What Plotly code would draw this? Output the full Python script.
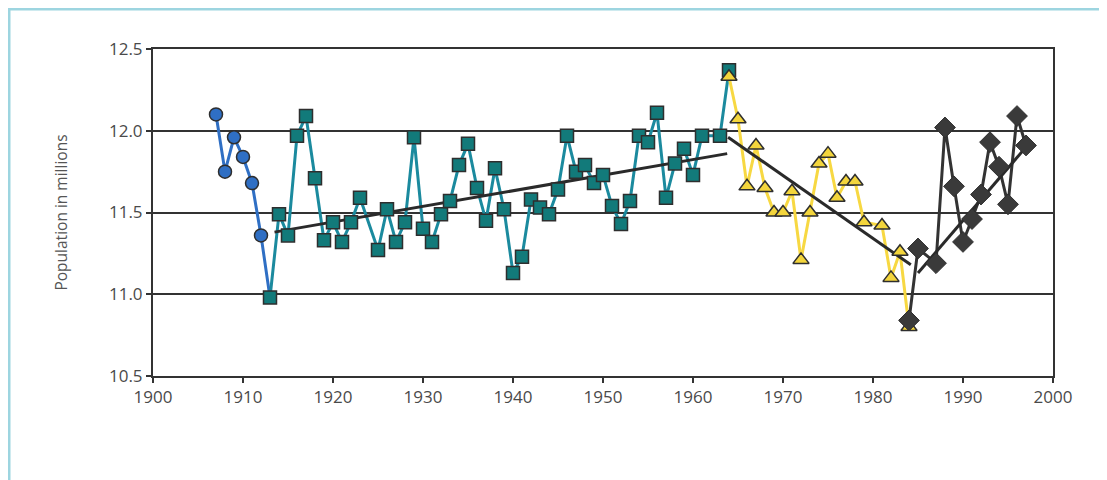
import plotly.graph_objects as go

# ---- data ----
early_years = [1907, 1908, 1909, 1910, 1911, 1912, 1913]
early_vals = [12.10, 11.75, 11.96, 11.84, 11.68, 11.36, 10.98]

mid_years = [1913, 1914, 1915, 1916, 1917, 1918, 1919, 1920, 1921, 1922, 1923,
             1925, 1926, 1927, 1928, 1929, 1930, 1931, 1932, 1933, 1934, 1935,
             1936, 1937, 1938, 1939, 1940, 1941, 1942, 1943, 1944, 1945, 1946,
             1947, 1948, 1949, 1950, 1951, 1952, 1953, 1954, 1955, 1956, 1957,
             1958, 1959, 1960, 1961, 1963, 1964]
mid_vals = [10.98, 11.49, 11.36, 11.97, 12.09, 11.71, 11.33, 11.44, 11.32, 11.44, 11.59,
            11.27, 11.52, 11.32, 11.44, 11.96, 11.40, 11.32, 11.49, 11.57, 11.79, 11.92,
            11.65, 11.45, 11.77, 11.52, 11.13, 11.23, 11.58, 11.53, 11.49, 11.64, 11.97,
            11.75, 11.79, 11.68, 11.73, 11.54, 11.43, 11.57, 11.97, 11.93, 12.11, 11.59,
            11.80, 11.89, 11.73, 11.97, 11.97, 12.37]

late_years = [1964, 1965, 1966, 1967, 1968, 1969, 1970, 1971, 1972, 1973, 1974,
              1975, 1976, 1977, 1978, 1979, 1981, 1982, 1983, 1984]
late_vals = [12.33, 12.07, 11.66, 11.91, 11.65, 11.50, 11.50, 11.63, 11.21, 11.50, 11.80,
             11.86, 11.59, 11.69, 11.69, 11.44, 11.42, 11.10, 11.26, 10.80]

recent_years = [1984, 1985, 1987, 1988, 1989, 1990, 1991, 1992, 1993, 1994, 1995, 1996, 1997]
recent_vals = [10.84, 11.28, 11.19, 12.02, 11.66, 11.32, 11.46, 11.61, 11.93, 11.78, 11.55, 12.09, 11.91]

# trend lines (end points)
trend_mid_years = [1913.5, 1963.8]
trend_mid_vals = [11.38, 11.86]
trend_late_years = [1963.9, 1984.2]
trend_late_vals = [11.96, 11.18]
trend_recent_years = [1985.0, 1997.0]
trend_recent_vals = [11.13, 11.90]

x_ticks = [1900, 1910, 1920, 1930, 1940, 1950, 1960, 1970, 1980, 1990, 2000]
y_ticks = [10.5, 11.0, 11.5, 12.0, 12.5]
y_title = "Population in millions"

# ---- styles ----
BLUE = "#2f6fc4"
TEAL = "#127a7a"
TEAL_LINE = "#1b8a9e"
YELLOW = "#f3d53c"
YELLOW_LINE = "#f7d842"
DARK = "#333333"
OUTLINE = "#2e2e2e"
FONT = "Open Sans"
TXT = "#4a4a4a"

fig = go.Figure()

# series lines
fig.add_trace(go.Scatter(x=early_years, y=early_vals, mode="lines",
                         line=dict(color=BLUE, width=3), hoverinfo="skip"))
fig.add_trace(go.Scatter(x=mid_years, y=mid_vals, mode="lines",
                         line=dict(color=TEAL_LINE, width=3), hoverinfo="skip"))
fig.add_trace(go.Scatter(x=late_years, y=late_vals, mode="lines",
                         line=dict(color=YELLOW_LINE, width=3), hoverinfo="skip"))
fig.add_trace(go.Scatter(x=recent_years, y=recent_vals, mode="lines",
                         line=dict(color=DARK, width=3), hoverinfo="skip"))

# trend lines
for tx, ty in [(trend_mid_years, trend_mid_vals),
               (trend_late_years, trend_late_vals),
               (trend_recent_years, trend_recent_vals)]:
    fig.add_trace(go.Scatter(x=tx, y=ty, mode="lines",
                             line=dict(color="#2a2a2a", width=3), hoverinfo="skip"))

# markers
fig.add_trace(go.Scatter(x=early_years[:-1], y=early_vals[:-1], mode="markers",
                         marker=dict(symbol="circle", size=13, color=BLUE,
                                     line=dict(color=OUTLINE, width=1.5))))
fig.add_trace(go.Scatter(x=mid_years, y=mid_vals, mode="markers",
                         marker=dict(symbol="square", size=13, color=TEAL,
                                     line=dict(color=OUTLINE, width=1.5))))
fig.add_trace(go.Scatter(x=late_years, y=late_vals, mode="markers",
                         marker=dict(symbol="triangle-up", size=14, color=YELLOW,
                                     line=dict(color=OUTLINE, width=1.5))))
fig.add_trace(go.Scatter(x=recent_years, y=recent_vals, mode="markers",
                         marker=dict(symbol="diamond", size=16, color="#3a3a3a",
                                     line=dict(color=OUTLINE, width=1))))

# the page adds an 8px margin around the figure
W, H = 1099, 472
L, R, T, B = 145, 54, 41, 104
pw = W - L - R
ph = H - T - B

border = "#9dd5e0"
shapes = [
    dict(type="line", xref="paper", yref="paper",
         x0=(0 - L) / pw, x1=(W - L) / pw, y0=(H - B - 0.5) / ph, y1=(H - B - 0.5) / ph,
         line=dict(color=border, width=4)),
    dict(type="line", xref="paper", yref="paper",
         x0=(0.5 - L) / pw, x1=(0.5 - L) / pw, y0=(H - B) / ph, y1=(H - B - H) / ph,
         line=dict(color=border, width=4)),
]

fig.update_layout(
    width=W, height=H,
    margin=dict(l=L, r=R, t=T, b=B),
    paper_bgcolor="white", plot_bgcolor="white",
    showlegend=False,
    font=dict(family=FONT, color=TXT, size=17),
    shapes=shapes,
    xaxis=dict(range=[1900, 2000], tickvals=x_ticks, showgrid=False, zeroline=False,
               showline=True, linecolor=DARK, linewidth=2, mirror=True,
               ticks="outside", ticklen=5, tickwidth=2, tickcolor=DARK,
               tickfont=dict(size=17, family=FONT, color=TXT)),
    yaxis=dict(range=[10.5, 12.5], tickvals=y_ticks, tickformat=".1f",
               showgrid=True, gridcolor=DARK, gridwidth=2, zeroline=False,
               showline=True, linecolor=DARK, linewidth=2, mirror=True,
               ticks="outside", ticklen=5, tickwidth=2, tickcolor=DARK,
               tickfont=dict(size=17, family=FONT, color=TXT),
               title=dict(text=y_title, font=dict(size=15.5, family=FONT, color="#555555"),
                          standoff=38)),
)

fig.write_html("out.html")
